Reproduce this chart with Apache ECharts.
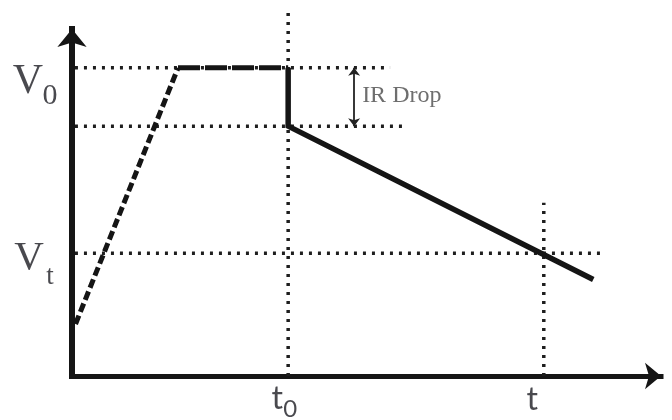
<!DOCTYPE html>
<html>
<head>
<meta charset="utf-8">
<script src="https://cdn.jsdelivr.net/npm/echarts@6/dist/echarts.min.js"></script>
<style>
  html, body { margin: 0; padding: 0; background: #fff; }
  #chart { width: 672px; height: 420px; }
</style>
</head>
<body>
<div id="chart"></div>
<script>
// 坐标统一用 0~100 的示意单位（原图无刻度）
const V0 = 88.8;      // 充电平台电压
const V_DROP = 72.0;  // IR 压降后的电压
const VT = 35.4;      // t 时刻电压
const T0 = 36.7;
const T = 80.1;

// 充电爬升（虚线）
const rampX = [0.6, 18.0];
const rampY = [15.0, V0];
// 平台（长虚线）
const plateauX = [18.0, T0];
const plateauY = [V0, V0];
// 压降 + 放电（实线）
const dischargeX = [T0, T0, 88.5];
const dischargeY = [V0, V_DROP, 27.8];

// 参考虚线的起止点 [x1, y1, x2, y2]
const guideLines = [
  [0.5, V0, 54.0, V0],
  [0.5, V_DROP, 56.9, V_DROP],
  [0.5, VT, 90.5, VT],
  [T0, 0, T0, 104.9],
  [T, 0, T, 49.9]
];

// IR Drop 标注
const irDropX = 47.9;
const irDropRange = [V0, V_DROP];
const irDropText = "IR Drop";
const irDropTextY = 80.7;

// 轴上的符号标注：主符号 + 下标
const yTickMain = ["V", "V"];
const yTickSub = ["0", "t"];
const yTickValues = [V0, VT];
const xTickMain = ["t", "t"];
const xTickSub = ["0", ""];
const xTickValues = [T0, T];

const INK = "#151515";
const TEXT = "#1b1b22";
const SERIF = "'Liberation Serif', 'DejaVu Serif', serif";
const SANS = "Lato, 'Open Sans', sans-serif";

const zip = (xs, ys) => xs.map((x, i) => [x, ys[i]]);

const guideSeries = guideLines.map((g) => ({
  type: "line",
  data: [[g[0], g[1]], [g[2], g[3]]],
  symbol: "none",
  silent: true,
  clip: false,
  z: 1,
  lineStyle: { color: "#1e1e1e", width: 3.5, type: [3, 6], cap: "butt" }
}));

// 标签样式（位置偏移按像素）
const yMainStyle = [
  { offset: [-44, 14], fontSize: 42 },
  { offset: [-43, 5.5], fontSize: 41 }
];
const ySubStyle = [
  { offset: [-22, 28.5], fontSize: 30 },
  { offset: [-22, 23.5], fontSize: 27 }
];
const xMainStyle = [
  { offset: [-11, 23] },
  { offset: [-11.5, 24] }
];
const xSubStyle = [
  { offset: [2, 33] },
  { offset: [0, 0] }
];

function labelPoint(x, y, text, font, size, offset) {
  return {
    value: [x, y],
    label: {
      show: !!text, position: "inside", offset,
      formatter: text, fontFamily: font, fontSize: size, color: TEXT
    }
  };
}

const labelData = [];
yTickValues.forEach((v, i) => {
  labelData.push(labelPoint(0, v, yTickMain[i], SERIF, yMainStyle[i].fontSize, yMainStyle[i].offset));
  labelData.push(labelPoint(0, v, yTickSub[i], SERIF, ySubStyle[i].fontSize, ySubStyle[i].offset));
});
xTickValues.forEach((v, i) => {
  labelData.push(labelPoint(v, 0, xTickMain[i], SANS, 32, xMainStyle[i].offset));
  labelData.push(labelPoint(v, 0, xTickSub[i], SANS, 24, xSubStyle[i].offset));
});

const chart = echarts.init(document.getElementById("chart"), null, { renderer: "canvas" });
chart.setOption({
  animation: false,
  backgroundColor: "#fff",
  grid: { left: 72, right: 11, top: 29, bottom: 44 },
  xAxis: {
    type: "value", min: 0, max: 100,
    splitLine: { show: false }, axisTick: { show: false }, axisLabel: { show: false },
    axisLine: {
      show: true, symbol: ["none", "arrow"], symbolSize: [20, 16],
      lineStyle: { color: INK, width: 5, cap: "square" }
    }
  },
  yAxis: {
    type: "value", min: 0, max: 100,
    splitLine: { show: false }, axisTick: { show: false }, axisLabel: { show: false },
    axisLine: {
      show: true, symbol: ["none", "arrow"], symbolSize: [22, 18],
      lineStyle: { color: INK, width: 6, cap: "square" }
    }
  },
  series: [
    ...guideSeries,
    {
      type: "line", data: zip(rampX, rampY), symbol: "none", z: 3,
      lineStyle: { color: INK, width: 5, type: [9, 4] }
    },
    {
      type: "line", data: zip(plateauX, plateauY), symbol: "none", z: 3,
      lineStyle: { color: INK, width: 5, type: [22, 5] }
    },
    {
      type: "line", data: zip(dischargeX, dischargeY), symbol: "none", z: 3,
      lineStyle: { color: INK, width: 5.5, join: "miter" }
    },
    {
      // IR Drop 双向箭头 + 文字
      type: "scatter",
      data: [[irDropX, irDropTextY]],
      symbolSize: 0,
      z: 4,
      label: {
        show: true, position: "right", distance: 8,
        formatter: irDropText,
        fontFamily: SERIF, fontSize: 24, color: "#4a4a4a"
      },
      markLine: {
        silent: true,
        symbol: ["arrow", "arrow"],
        symbolSize: [9, 8],
        label: { show: false },
        lineStyle: { color: "#222", width: 1.8, type: "solid" },
        data: [[{ coord: [irDropX, irDropRange[0]] }, { coord: [irDropX, irDropRange[1]] }]]
      }
    },
    {
      type: "scatter",
      symbolSize: 0,
      z: 5,
      clip: false,
      data: labelData
    }
  ]
});
</script>
</body>
</html>
